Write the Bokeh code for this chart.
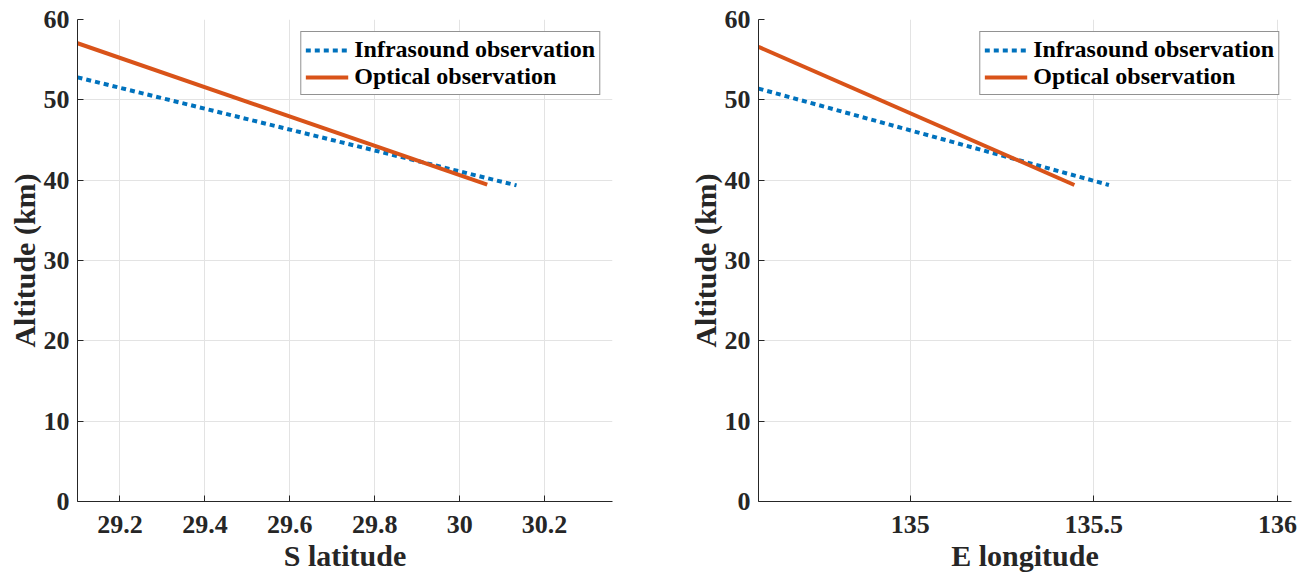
from bokeh.plotting import figure
from bokeh.layouts import row
from bokeh.models import FixedTicker, Range1d, Legend, LegendItem
from bokeh.embed import file_html
from bokeh.resources import INLINE

# ---- data ----
lat_infra = [29.10, 30.134]
alt_infra_lat = [52.8, 39.35]
lat_opt = [29.10, 30.065]
alt_opt_lat = [57.05, 39.45]

lon_infra = [134.587, 135.541]
alt_infra_lon = [51.4, 39.4]
lon_opt = [134.587, 135.447]
alt_opt_lon = [56.6, 39.4]

lat_ticks = [29.2, 29.4, 29.6, 29.8, 30.0, 30.2]
lat_tick_labels = ["29.2", "29.4", "29.6", "29.8", "30", "30.2"]
lon_ticks = [135.0, 135.5, 136.0]
lon_tick_labels = ["135", "135.5", "136"]
alt_ticks = [0, 10, 20, 30, 40, 50, 60]

series_names = ["Infrasound observation", "Optical observation"]
BLUE = "#0072BD"
ORANGE = "#D95319"
FONT = "Liberation Serif"
DARK = "#262626"


def make_fig(width, border_left, border_right, xr, xticks, xlabels, xlabel,
             xi, yi, xo, yo):
    p = figure(width=width, height=574, output_backend="svg", toolbar_location=None,
               x_range=Range1d(*xr), y_range=Range1d(0, 60),
               min_border_left=border_left, min_border_right=border_right,
               min_border_top=19, min_border_bottom=72)
    p.outline_line_color = None
    r1 = p.line(xi, yi, line_color=BLUE, line_width=4, line_dash="5 4")
    r2 = p.line(xo, yo, line_color=ORANGE, line_width=4)

    p.xaxis.ticker = FixedTicker(ticks=xticks)
    p.xaxis.major_label_overrides = {t: l for t, l in zip(xticks, xlabels)}
    p.yaxis.ticker = FixedTicker(ticks=alt_ticks)
    p.yaxis.major_label_overrides = {t: str(t) for t in alt_ticks}
    p.xaxis.axis_label = xlabel
    p.yaxis.axis_label = "Altitude (km)"
    for ax in (p.xaxis, p.yaxis):
        ax.axis_line_color = DARK
        ax.major_tick_line_color = DARK
        ax.major_tick_in = 6
        ax.major_tick_out = 0
        ax.minor_tick_line_color = None
        ax.major_label_text_font = FONT
        ax.major_label_text_font_style = "bold"
        ax.major_label_text_font_size = "26px"
        ax.major_label_text_color = DARK
        ax.axis_label_text_font = FONT
        ax.axis_label_text_font_style = "bold"
        ax.axis_label_text_font_size = "30px"
        ax.axis_label_text_color = DARK
    p.xaxis.major_label_standoff = 14
    p.xaxis.axis_label_standoff = 3
    p.yaxis.major_label_standoff = 8
    p.yaxis.axis_label_standoff = 0
    p.grid.grid_line_color = "#e3e3e3"
    p.grid.grid_line_width = 1

    legend = Legend(items=[LegendItem(label=series_names[0], renderers=[r1]),
                           LegendItem(label=series_names[1], renderers=[r2])],
                    location="top_right")
    legend.label_text_font = FONT
    legend.label_text_font_style = "bold"
    legend.label_text_font_size = "24px"
    legend.label_text_color = "black"
    legend.border_line_color = DARK
    legend.border_line_width = 1
    legend.glyph_width = 43
    legend.glyph_height = 24
    legend.label_height = 24
    legend.spacing = 0
    legend.padding = 4
    legend.margin = 12
    legend.label_standoff = 6
    legend.background_fill_alpha = 1
    p.add_layout(legend)
    return p


p1 = make_fig(640, 77, 28, (29.1, 30.36), lat_ticks, lat_tick_labels, "S latitude",
              lat_infra, alt_infra_lat, lat_opt, alt_opt_lat)
p2 = make_fig(665, 118, 14, (134.587, 136.038), lon_ticks, lon_tick_labels, "E longitude",
              lon_infra, alt_infra_lon, lon_opt, alt_opt_lon)

layout = row(p1, p2)
open("out.html", "w").write(file_html(layout, INLINE))
